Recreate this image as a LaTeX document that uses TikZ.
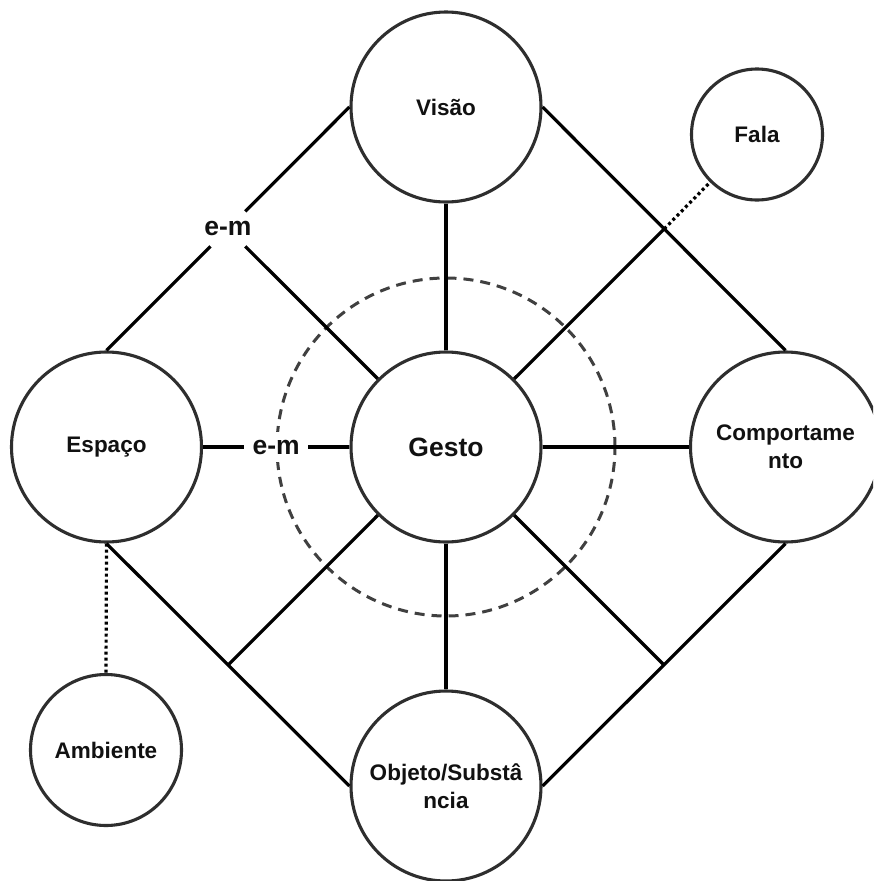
\documentclass[tikz,border=0pt]{standalone}
\usepackage{fontspec}
\setmainfont{Liberation Sans}
\usetikzlibrary{calc}
\definecolor{circ}{HTML}{2E2E2E}
\definecolor{ringc}{HTML}{404040}
\definecolor{ink}{HTML}{111111}
\begin{document}
\begin{tikzpicture}[x=1pt,y=-1pt,
  bubble/.style={circle, draw=circ, line width=3.1pt, fill=white, minimum size=190pt, inner sep=0pt, align=center, text=ink, font=\bfseries\fontsize{22.5}{28}\selectfont},
  smallbubble/.style={bubble, minimum size=131pt},
  midbubble/.style={bubble, minimum size=151pt},
  link/.style={line width=3.2pt, draw=black},
  dotlink/.style={line width=3.2pt, draw=black, dash pattern=on 3pt off 3pt},
  emlabel/.style={fill=white, inner xsep=8pt, inner ysep=8pt, text=ink, font=\bfseries\fontsize{26.5}{30}\selectfont},
  ringstyle/.style={circle, draw=ringc, line width=3pt, dash pattern=on 10pt off 7pt, minimum size=338pt, inner sep=0pt}
]
\useasboundingbox (0,0) rectangle (873,881);
\clip (0,0) rectangle (873,881);
\fill[white] (0,0) rectangle (873,881);

% dashed ring
\node[ringstyle] (ring) at (446,447) {};

% main circles
\node[bubble] (visao) at (446,107) {Vis\~ao};
\node[bubble] (espaco) at (106.5,447) {Espa\c{c}o};
\node[bubble, font=\bfseries\fontsize{26.5}{30}\selectfont] (gesto) at (446,447) {Gesto};
\node[bubble] (comp) at (785.5,447) {Comportame\\nto};
\node[bubble] (objeto) at (446,786) {Objeto/Subst\^a\\ncia};
\node[smallbubble] (fala) at (757,134.5) {Fala};
\node[midbubble] (amb) at (106,750) {Ambiente};

% intersection points
\coordinate (nwx) at (intersection of gesto.center--gesto.135 and espaco.north--visao.west);
\coordinate (nex) at (intersection of gesto.center--gesto.45 and visao.east--comp.north);
\coordinate (swx) at (intersection of gesto.center--gesto.225 and espaco.south--objeto.west);
\coordinate (sex) at (intersection of gesto.center--gesto.315 and comp.south--objeto.east);

% labels
\node[emlabel] (emh) at ($(espaco.east)!0.5!(gesto.west)$) {e-m};
\node[emlabel, inner ysep=10pt] (emd) at (nwx) {e-m};

% outer diamond
\draw[link] (espaco.north) -- (emd);
\draw[link] (emd) -- (visao.west);
\draw[link] (visao.east) -- (comp.north);
\draw[link] (comp.south) -- (objeto.east);
\draw[link] (objeto.west) -- (espaco.south);

% spokes
\draw[link] (gesto.north) -- (visao.south);
\draw[link] (gesto.south) -- (objeto.north);
\draw[link] (gesto.east) -- (comp.west);
\draw[link] (espaco.east) -- (emh);
\draw[link] (emh) -- (gesto.west);
\draw[link] (gesto.135) -- (emd);
\draw[link] (gesto.45) -- (nex);
\draw[link] (gesto.225) -- (swx);
\draw[link] (gesto.315) -- (sex);

% dotted links
\draw[dotlink] (nex) -- (fala);
\draw[dotlink] (espaco.south) -- (amb.north);
\end{tikzpicture}
\end{document}
